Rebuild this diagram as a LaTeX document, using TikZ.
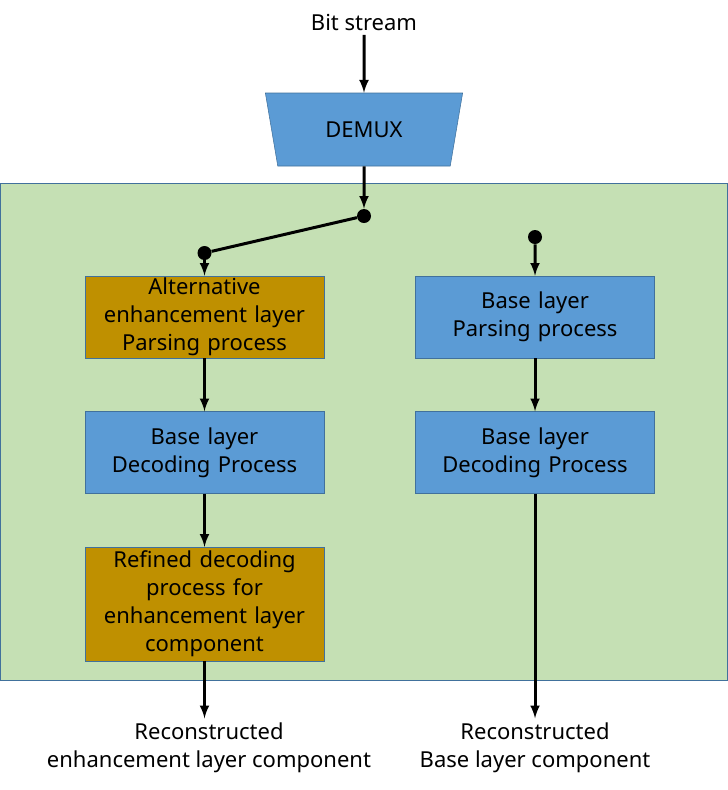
\documentclass[tikz,border=0pt]{standalone}
\usepackage{fontspec}
\setmainfont{Noto Sans}
\usetikzlibrary{positioning,shapes.geometric}
\definecolor{boxblue}{HTML}{5B9BD5}
\definecolor{boxgold}{HTML}{BF9000}
\definecolor{areagreen}{HTML}{C5E0B4}
\definecolor{edgeblue}{HTML}{41719C}
\tikzstyle{block} = [rectangle, draw=edgeblue, fill=boxblue, text width=175pt, align=center, minimum width=179.25pt, minimum height=61.5pt, inner sep=0pt]
\tikzstyle{demuxbox} = [trapezium, shape border rotate=180, trapezium angle=76, trapezium stretches=true, draw=edgeblue, fill=boxblue, minimum width=148.5pt, minimum height=54.75pt]
\tikzstyle{dot} = [circle, fill=black, inner sep=0pt, minimum size=10.5pt]
\tikzstyle{wire} = [line width=2.25pt]

\begin{document}
\begin{tikzpicture}[x=0.75pt, y=-0.75pt, node distance = 39.75pt and 68.25pt, >=latex, font=\fontsize{16.5}{21}\selectfont]
        \useasboundingbox (0,0) rectangle (728,790);
        \draw [fill=areagreen, draw=edgeblue] (0.5,183) rectangle (727.5,680);

        \node (bitstream) at (364,22) {Bit stream};
        \node [demuxbox] (demux) at (364,129.5) {DEMUX};
        \node [dot] (splitdot) at (364,216) {};
        \node [dot] (leftdot) at (204.5,253) {};
        \node [dot] (rightdot) at (535,237) {};

        \node [block, fill=boxgold] (altparse) at (204.5,317) {Alternative\\enhancement layer\\Parsing process};
        \node [block, below = of altparse] (altdecode) {Base layer\\Decoding Process};
        \node [block, fill=boxgold, minimum height=85.5pt, below = of altdecode] (refine) {Refined decoding\\process for\\enhancement layer\\component};
        \node [block, right = of altparse] (baseparse) {Base layer\\Parsing process};
        \node [block, below = of baseparse] (basedecode) {Base layer\\Decoding Process};

        \node [align=center] (enhout) at (209,748) {Reconstructed\\enhancement layer component};
        \node [align=center] (baseout) at (535,748) {Reconstructed\\Base layer component};

        \draw [wire, ->] (bitstream) -- (demux);
        \draw [wire, ->] (demux) -- (splitdot);
        \draw [wire] (splitdot) -- (leftdot);
        \draw [wire, ->] (leftdot) -- (altparse);
        \draw [wire, ->] (altparse) -- (altdecode);
        \draw [wire, ->] (altdecode) -- (refine);
        \draw [wire, ->] (refine) -- (refine.south |- enhout.north);
        \draw [wire, ->] (rightdot) -- (baseparse);
        \draw [wire, ->] (baseparse) -- (basedecode);
        \draw [wire, ->] (basedecode) -- (basedecode.south |- baseout.north);
\end{tikzpicture}
\end{document}
